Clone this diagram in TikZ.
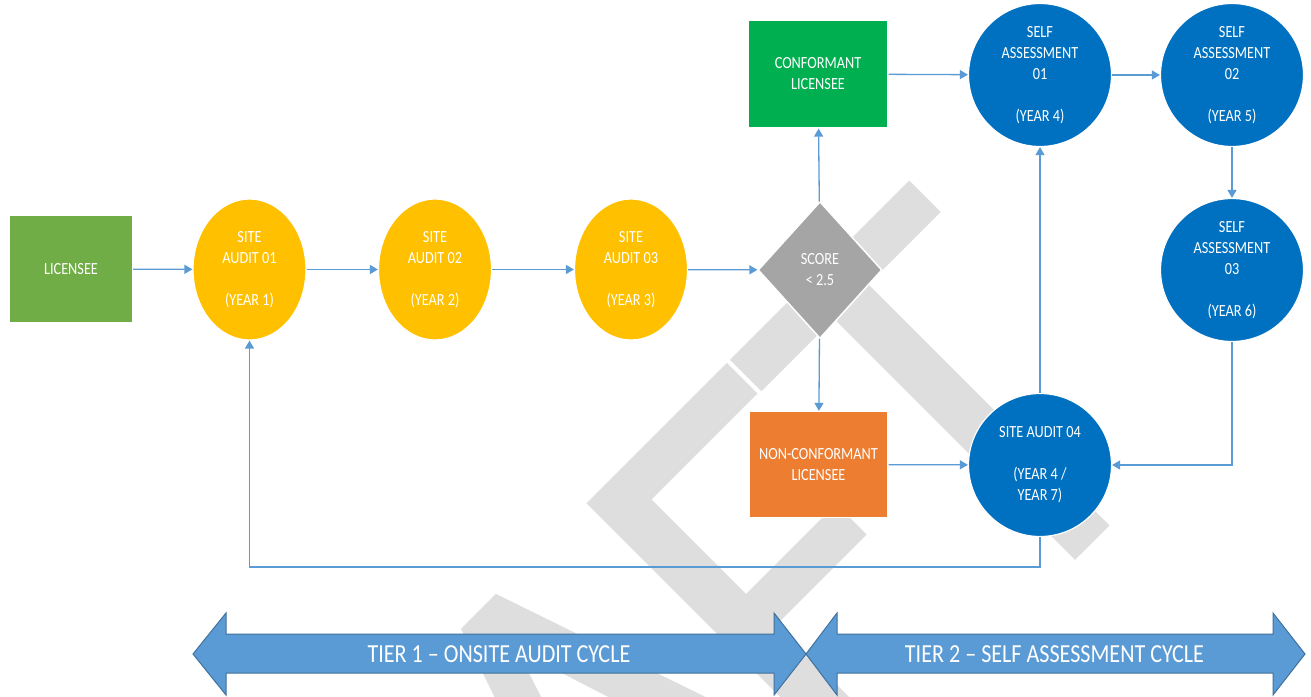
\documentclass[tikz,border=0pt]{standalone}
\usepackage{fontspec}
\usetikzlibrary{shapes.geometric,arrows.meta}
\newfontfamily\dfont{Carlito}[FakeStretch=0.84]
\newfontfamily\afont{Carlito}[FakeStretch=0.85]
\newfontfamily\wfont{Carlito}[FakeStretch=0.91]
\definecolor{lgreen}{HTML}{70AD47}
\definecolor{cgreen}{HTML}{00B050}
\definecolor{yel}{HTML}{FFC000}
\definecolor{dgray}{HTML}{A5A5A5}
\definecolor{orng}{HTML}{ED7D31}
\definecolor{blu}{HTML}{0070C0}
\definecolor{linec}{HTML}{5B9BD5}
\definecolor{arrf}{HTML}{5B9BD5}
\definecolor{arrd}{HTML}{41719C}
\definecolor{wmgray}{RGB}{222,222,222}
\begin{document}
\begin{tikzpicture}[x=1pt,y=-1pt,
 conn/.style={draw=linec, line width=1.3pt, -{Triangle[length=8pt,width=9pt]}},
 txt/.style={text=white, align=center, font={\dfont\fontsize{17pt}{21pt}\selectfont}, inner sep=0pt},
 boxn/.style={txt, rectangle, draw=white, line width=1.2pt},
 elln/.style={txt, ellipse, fill=yel, draw=white, line width=1.2pt, minimum width=113pt, minimum height=141pt},
 circn/.style={txt, circle, fill=blu, draw=white, line width=1.2pt, minimum size=143pt},
 wm/.style={rotate=45, inner sep=0pt, outer sep=0pt, text=wmgray, font={\wfont\fontsize{601pt}{601pt}\selectfont}},
 bigarrow/.style={fill=arrf, draw=arrd, line width=1pt},
 atxt/.style={text=white, inner sep=0pt, font={\afont\fontsize{26pt}{30pt}\selectfont}}
]
\useasboundingbox (0,0) rectangle (1311,696);
\fill[white] (0,0) rectangle (1311,696);
% watermark
\node[wm, anchor=base] (wmt) at (1092.25,543.75) {T};
\node[wm, anchor=base west] (wmf) at (833.3,802.7) {F};
\node[wm, anchor=base] (wma) at (751.5,884.5) {A};
\node[wm, anchor=base east] (wmdr) at (wma.base west) {DR};
% nodes
\node[boxn, fill=lgreen, minimum width=123pt, minimum height=108pt] (lic) at (71,269) {LICENSEE};
\node[elln] (au1) at (249.5,269.5) {SITE\\AUDIT 01\\\mbox{}\\(YEAR 1)};
\node[elln] (au2) at (435,269.5) {SITE\\AUDIT 02\\\mbox{}\\(YEAR 2)};
\node[elln] (au3) at (631,269.5) {SITE\\AUDIT 03\\\mbox{}\\(YEAR 3)};
\node[txt, diamond, fill=dgray, draw=white, line width=1.5pt, minimum width=124pt, minimum height=137pt] (score) at (820,270) {SCORE\\< 2.5};
\node[boxn, fill=cgreen, minimum width=140pt, minimum height=108pt] (conf) at (818,74) {CONFORMANT\\LICENSEE};
\node[boxn, fill=orng, minimum width=139pt, minimum height=106pt] (nconf) at (818.5,464.5) {NON-CONFORMANT\\LICENSEE};
\node[circn] (sa1) at (1040,75) {SELF\\ASSESSMENT\\01\\\mbox{}\\(YEAR 4)};
\node[circn] (sa2) at (1232,75) {SELF\\ASSESSMENT\\02\\\mbox{}\\(YEAR 5)};
\node[circn] (sa3) at (1232,270) {SELF\\ASSESSMENT\\03\\\mbox{}\\(YEAR 6)};
\node[circn] (sa4) at (1040,465) {SITE AUDIT 04\\\mbox{}\\(YEAR 4 /\\YEAR 7)};
\coordinate (loopc) at (1040,567);
% connectors
\draw[conn] (lic) -- (au1);
\draw[conn] (au1) -- (au2);
\draw[conn] (au2) -- (au3);
\draw[conn] (au3) -- (score);
\draw[conn] (score) -- (conf);
\draw[conn] (score) -- (nconf);
\draw[conn] (conf) -- (sa1);
\draw[conn] (sa1) -- (sa2);
\draw[conn] (sa2) -- (sa3);
\draw[conn] (sa3.south) |- (sa4.east);
\draw[conn] (nconf) -- (sa4);
\draw[conn] (sa4) -- (sa1);
\draw[conn] (sa4.south) -- (loopc) -| (au1.south);
% bottom arrows
\path[bigarrow] (193,654) -- (226,613) -- (226,634) -- (774,634) -- (774,613) -- (806,654) -- (774,695) -- (774,673) -- (226,673) -- (226,695) -- cycle;
\path[bigarrow] (806,654) -- (837,613) -- (837,634) -- (1273,634) -- (1273,613) -- (1305,654) -- (1273,695) -- (1273,673) -- (837,673) -- (837,695) -- cycle;
\node[atxt] (t1) at (499,654) {TIER 1 – ONSITE AUDIT CYCLE};
\node[atxt] (t2) at (1054.5,654) {TIER 2 – SELF ASSESSMENT CYCLE};
\end{tikzpicture}
\end{document}
